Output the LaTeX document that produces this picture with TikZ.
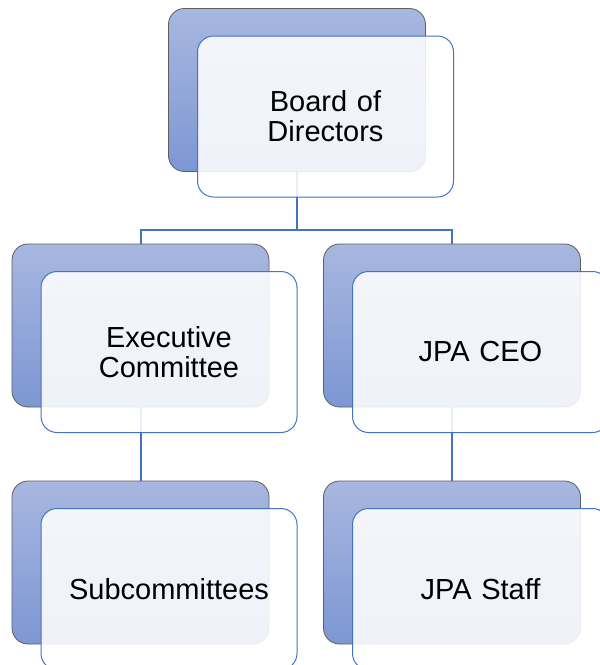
\documentclass[tikz,border=0pt]{standalone}
\usepackage{fontspec}
\setmainfont{Liberation Sans}
\usepackage{tikz}

\definecolor{boxtop}{HTML}{A8B7E0}
\definecolor{boxbottom}{HTML}{7D97D3}
\definecolor{edgegray}{HTML}{5E5E5E}
\definecolor{lineblue}{HTML}{4472C4}

\begin{document}
\begin{tikzpicture}[x=1pt,y=-1pt,
  back/.style={draw=edgegray,line width=0.8pt,rounded corners=16pt,
    top color=boxtop,bottom color=boxbottom,
    minimum width=257pt,minimum height=163pt,inner sep=0pt,outer sep=0pt},
  front/.style={draw=lineblue,line width=1pt,fill=white,fill opacity=0.88,
    text opacity=1,rounded corners=16pt,
    minimum width=256pt,minimum height=161pt,inner sep=0pt,outer sep=0pt,
    text width=240pt,align=center,font=\fontsize{29}{30}\selectfont},
  link/.style={draw=lineblue,line width=2pt}]
\useasboundingbox (0,0) rectangle (600,665);

% back boxes
\node[back] (bBoard) at (297,90) {};
\node[back] (bExec) at (140.5,325.5) {};
\node[back] (bCEO) at (452,325.5) {};
\node[back] (bSub) at (140.5,562.5) {};
\node[back] (bStaff) at (452,562.5) {};

% connectors
\coordinate (split) at (297,230);
\draw[link] (bBoard.south) -- (split) -| (bExec.north);
\draw[link] (split) -| (bCEO.north);
\draw[link] (bExec.south) -- (bSub.north);
\draw[link] (bCEO.south) -- (bStaff.north);

% front boxes
\node[front] (board) at (325.5,116.5) {Board of\\Directors};
\node[front] (exec) at (169,352) {Executive\\Committee};
\node[front] (ceo) at (480.5,352) {JPA CEO};
\node[front] (sub) at (169,589) {Subcommittees};
\node[front] (staff) at (480.5,589) {JPA Staff};

\end{tikzpicture}
\end{document}
